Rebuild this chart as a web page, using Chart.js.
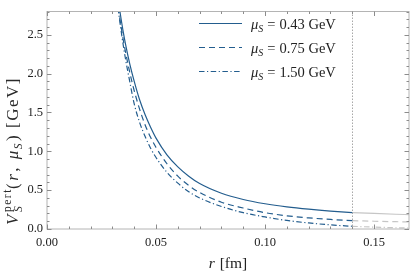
<!DOCTYPE html>
<html>
<head>
<meta charset="utf-8">
<script src="https://cdn.jsdelivr.net/npm/chart.js@4/dist/chart.umd.min.js"></script>
<style>
    html, body { margin: 0; padding: 0; background: #fff; }
    #wrap { width: 415px; height: 273px; }
</style>
</head>
<body>
<div id="wrap"><canvas id="myChart" width="415" height="273"></canvas></div>
<script>
// values, r in fm, V in GeV
var R_IN = [0.032, 0.033, 0.034, 0.035, 0.036, 0.038, 0.040, 0.0425, 0.045, 0.0475, 0.050, 0.055, 0.060, 0.065, 0.070, 0.080, 0.090, 0.100, 0.110, 0.120, 0.130, 0.140];
var V_043 = [3.07, 2.88, 2.70, 2.53, 2.38, 2.12, 1.90, 1.66, 1.47, 1.31, 1.17, 0.955, 0.80, 0.68, 0.585, 0.46, 0.38, 0.325, 0.285, 0.255, 0.231, 0.212];
var V_075 = [2.98, 2.78, 2.60, 2.43, 2.28, 2.01, 1.78, 1.54, 1.34, 1.18, 1.05, 0.84, 0.68, 0.56, 0.47, 0.345, 0.27, 0.21, 0.17, 0.143, 0.123, 0.108];
var V_150 = [3.00, 2.76, 2.55, 2.36, 2.19, 1.89, 1.61, 1.37, 1.19, 1.04, 0.92, 0.73, 0.59, 0.48, 0.40, 0.29, 0.21, 0.155, 0.11, 0.078, 0.053, 0.035];

var R_OUT = [0.140, 0.150, 0.160, 0.166];
var V_043_OUT = [0.212, 0.200, 0.190, 0.185];
var V_075_OUT = [0.108, 0.100, 0.094, 0.092];
var V_150_OUT = [0.035, 0.024, 0.016, 0.012];

var MU_LABELS = ['0.43', '0.75', '1.50'];
var R_CUT = 0.14;

var BLUE = '#235d8e',
    GREY = '#c6c6c6',
    DASHES = [[], [6, 4], [5.5, 2.5, 1.2, 2.5]],
    SERIF = '"Liberation Serif", "DejaVu Serif", serif';

function pts(xs, ys) {
    return xs.map(function (x, i) { return { x: x, y: ys[i] }; });
}

function isMultiple(v, step) {
    var q = v / step;
    return Math.abs(q - Math.round(q)) < 1e-6;
}

var inside = [V_043, V_075, V_150],
    outside = [V_043_OUT, V_075_OUT, V_150_OUT],
    datasets = [];

inside.forEach(function (vals, i) {
    datasets.push({
        label: 'mu ' + MU_LABELS[i],
        data: pts(R_IN, vals),
        borderColor: BLUE,
        borderWidth: 1.2,
        borderDash: DASHES[i],
        pointRadius: 0,
        cubicInterpolationMode: 'monotone'
    });
});
outside.forEach(function (vals, i) {
    datasets.push({
        label: 'grey ' + MU_LABELS[i],
        data: pts(R_OUT, vals),
        borderColor: GREY,
        borderWidth: 1.2,
        borderDash: DASHES[i],
        pointRadius: 0,
        cubicInterpolationMode: 'monotone'
    });
});

// draws text pieces one after another, each with its own font and shift;
// ls spreads the letters of a piece a little
function drawRich(ctx, parts, x, y, ls) {
    ls = ls || 0;
    var cx = x;
    parts.forEach(function (p) {
        ctx.font = p.f + SERIF;
        var start = cx, w = 0;
        p.t.split('').forEach(function (ch) {
            ctx.fillText(ch, start + w, y + (p.dy || 0));
            w += ctx.measureText(ch).width + ls;
        });
        if (!p.over) cx += Math.max(w, p.minW || 0) + (p.gap || 0);
    });
    return cx - x;
}

function measureRich(ctx, parts, ls) {
    var old = ctx.globalAlpha;
    ctx.globalAlpha = 0;
    var w = drawRich(ctx, parts, 0, -500, ls);
    ctx.globalAlpha = old;
    return w;
}

// frame, inward ticks, dotted cut line, legend and axis titles
var decor = {
    id: 'decor',
    beforeDatasetsDraw: function (chart) {
        var ctx = chart.ctx, a = chart.chartArea, x = chart.scales.x;
        var px = Math.round(x.getPixelForValue(R_CUT)) + 0.5;
        ctx.save();
        ctx.strokeStyle = '#a8a8a8';
        ctx.lineWidth = 1;
        ctx.setLineDash([1.5, 1.5]);
        ctx.beginPath();
        ctx.moveTo(px, a.top);
        ctx.lineTo(px, a.bottom);
        ctx.stroke();
        ctx.restore();
    },
    afterDraw: function (chart) {
        var ctx = chart.ctx, a = chart.chartArea,
            xs = chart.scales.x, ys = chart.scales.y;
        ctx.save();
        ctx.strokeStyle = '#b4b4b4';
        ctx.lineWidth = 1;
        ctx.strokeRect(a.left, a.top, a.right - a.left, a.bottom - a.top);

        ctx.strokeStyle = '#8c8c8c';
        ctx.beginPath();
        xs.ticks.forEach(function (t) {
            if (!isMultiple(t.value, 0.01)) return;
            var p = Math.round(xs.getPixelForValue(t.value)) + 0.5,
                len = isMultiple(t.value, 0.05) ? 4.5 : 2.5;
            ctx.moveTo(p, a.bottom); ctx.lineTo(p, a.bottom - len);
            ctx.moveTo(p, a.top); ctx.lineTo(p, a.top + len);
        });
        ys.ticks.forEach(function (t) {
            if (!isMultiple(t.value, 0.1)) return;
            var p = Math.round(ys.getPixelForValue(t.value)) + 0.5,
                len = isMultiple(t.value, 0.5) ? 4.5 : 2.5;
            ctx.moveTo(a.left, p); ctx.lineTo(a.left + len, p);
            ctx.moveTo(a.right, p); ctx.lineTo(a.right - len, p);
        });
        ctx.stroke();

        // legend
        var lx0 = 199, lx1 = 242, tx = 251, ly = [23.5, 47.5, 71.5];
        ly.forEach(function (y, i) {
            ctx.strokeStyle = BLUE;
            ctx.lineWidth = 1.2;
            ctx.setLineDash(DASHES[i]);
            ctx.beginPath();
            ctx.moveTo(lx0, y); ctx.lineTo(lx1, y);
            ctx.stroke();
            ctx.setLineDash([]);

            ctx.fillStyle = '#222';
            ctx.textBaseline = 'alphabetic';
            ctx.textAlign = 'left';
            drawRich(ctx, [
                { t: 'μ', f: 'italic 14.5px ' },
                { t: 'S', f: 'italic 10px ', dy: 3, gap: 4 },
                { t: '=', f: '14.5px ', gap: 4 },
                { t: MU_LABELS[i] + ' GeV', f: '14.5px ' }
            ], tx, y + 5);
        });

        // x title
        ctx.fillStyle = '#222';
        var xparts = [
            { t: 'r', f: 'italic 15.5px ', gap: 1 },
            { t: ' [fm]', f: '15.5px ' }
        ];
        var xw = measureRich(ctx, xparts);
        drawRich(ctx, xparts, (a.left + a.right) / 2 - xw / 2, 268);

        // y title, rotated
        ctx.fillStyle = '#2a2a2a';
        ctx.translate(18, 151);
        ctx.rotate(-Math.PI / 2);
        var yparts = [
            { t: 'V', f: 'italic 17px ', gap: 1 },
            { t: 'pert', f: '11.5px ', dy: -7, over: true },
            { t: 'S', f: 'italic 11.5px ', dy: 3.5, minW: 22, gap: 1 },
            { t: '(', f: '17px ', gap: 1 },
            { t: 'r', f: 'italic 17px ', gap: 1 },
            { t: ', ', f: '17px ', gap: 1 },
            { t: 'μ', f: 'italic 17px ' },
            { t: 'S', f: 'italic 11.5px ', dy: 3.5, gap: 1 },
            { t: ') [GeV]', f: '17px ' }
        ];
        var yw = measureRich(ctx, yparts, 1.5);
        drawRich(ctx, yparts, -yw / 2, 0, 1.5);
        ctx.restore();
    }
};

new Chart(document.getElementById('myChart').getContext('2d'), {
    type: 'line',
    data: { datasets: datasets },
    options: {
        responsive: false,
        animation: false,
        layout: { padding: { left: 0, top: 3, right: 2, bottom: 0 } },
        plugins: { legend: { display: false }, tooltip: { enabled: false } },
        scales: {
            x: {
                type: 'linear',
                min: 0,
                max: 0.166,
                grid: { display: false, drawTicks: false },
                border: { display: false },
                afterFit: function (s) { s.height = 44; },
                ticks: {
                    stepSize: 0.01,
                    autoSkip: false,
                    maxRotation: 0,
                    padding: 6,
                    color: '#222',
                    font: { family: SERIF, size: 12.5 },
                    callback: function (v) { return isMultiple(v, 0.05) ? v.toFixed(2) : ''; }
                }
            },
            y: {
                min: 0,
                max: 2.8,
                grid: { display: false, drawTicks: false },
                border: { display: false },
                afterFit: function (s) { s.width = 47; },
                ticks: {
                    stepSize: 0.1,
                    autoSkip: false,
                    padding: 4,
                    color: '#222',
                    font: { family: SERIF, size: 12.5 },
                    callback: function (v) { return isMultiple(v, 0.5) ? v.toFixed(1) : ''; }
                }
            }
        }
    },
    plugins: [decor]
});
</script>
</body>
</html>
